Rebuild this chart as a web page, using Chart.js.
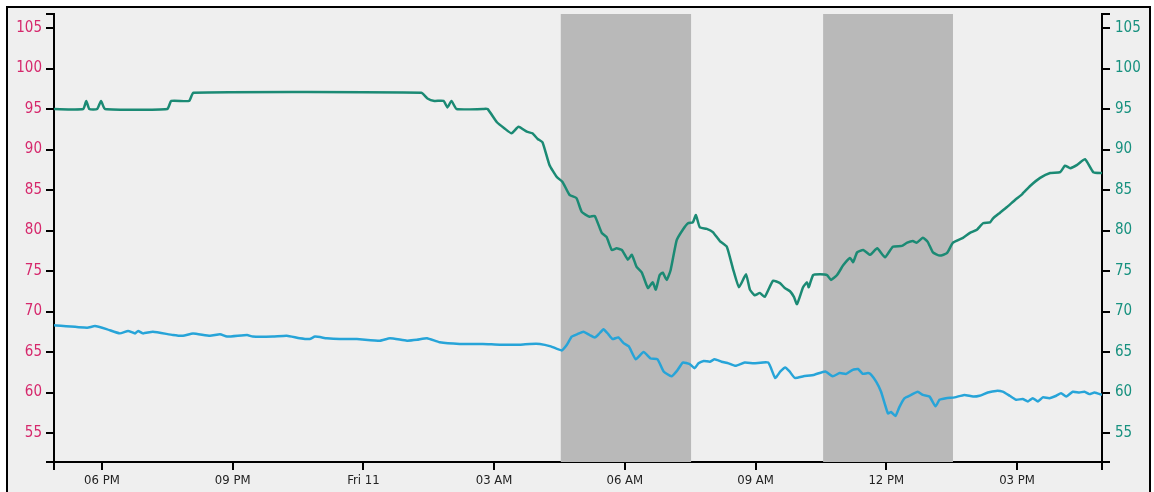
<!DOCTYPE html>
<html>
<head>
<meta charset="utf-8">
<script src="https://cdn.jsdelivr.net/npm/chart.js@4.4.1/dist/chart.umd.min.js"></script>
<style>
  html, body { margin:0; padding:0; background:#ffffff; overflow:hidden; width:1154px; height:492px; }
  #frame { position:absolute; left:6px; top:6px; width:1141px; height:520px; border:2px solid #000; background:#efefef; }
  #c { position:absolute; left:0; top:0; }
</style>
</head>
<body>
<div id="frame"></div>
<canvas id="c" width="1154" height="492"></canvas>
<script>
// time in hours since Thu 00:00 (24 = Fri 11 midnight)
const xMin = 16.9, xMax = 40.95;
const yMin = 51.42, yMax = 106.73;
const xTickValues = [18, 21, 24, 27, 30, 33, 36, 39];
const xTickLabels = ['06 PM', '09 PM', 'Fri 11', '03 AM', '06 AM', '09 AM', '12 PM', '03 PM'];
const yTickValues = [55, 60, 65, 70, 75, 80, 85, 90, 95, 100, 105];
const bandStarts = [28.53, 34.55];
const bandEnds = [31.52, 37.53];

const greenTimes = [16.90,17.57,17.64,17.71,17.89,17.98,18.07,19.50,19.59,20.00,20.10,25.33,25.47,25.63,25.84,25.93,26.02,26.14,26.74,26.85,
  27.06,27.24,27.40,27.56,27.75,27.88,28.00,28.11,28.27,28.44,28.57,28.73,28.89,29.01,29.19,29.31,29.47,29.58,29.70,29.81,
  29.93,30.07,30.16,30.27,30.39,30.53,30.64,30.71,30.80,30.87,30.96,31.05,31.19,31.33,31.45,31.56,31.63,31.72,31.88,32.02,
  32.18,32.34,32.48,32.62,32.78,32.87,32.98,33.10,33.21,33.40,33.56,33.67,33.79,33.88,33.95,34.09,34.18,34.22,34.32,34.48,
  34.64,34.73,34.87,35.01,35.17,35.24,35.33,35.47,35.63,35.79,35.97,36.15,36.36,36.48,36.61,36.70,36.84,36.95,37.07,37.23,
  37.39,37.53,37.76,37.92,38.08,38.22,38.38,38.45,38.61,38.77,38.96,39.12,39.30,39.53,39.76,39.99,40.10,40.22,40.38,40.56,
  40.75,40.95];
const greenValues = [95,95,96,95,95,96,95,95,96,96,97,97,96.3,96,96,95.2,96,95,95,95,
  93.4,92.6,92.0,92.8,92.2,92.0,91.3,90.9,88.1,86.6,86.0,84.4,84.0,82.3,81.7,81.8,79.7,79.2,77.6,77.8,
  77.6,76.4,77.0,75.5,74.8,72.9,73.6,72.7,74.5,74.8,73.9,75.1,78.8,80.1,80.9,81.0,81.9,80.4,80.2,79.8,
  78.7,78.0,75.3,73.0,74.6,72.7,72.0,72.3,71.8,73.8,73.5,72.9,72.5,71.8,70.9,73.0,73.6,73.0,74.5,74.6,
  74.5,73.9,74.5,75.7,76.6,76.1,77.3,77.6,77.0,77.8,76.7,78.0,78.1,78.5,78.7,78.5,79.1,78.6,77.3,76.9,
  77.2,78.5,79.1,79.7,80.1,80.9,81.0,81.5,82.2,82.9,83.8,84.5,85.5,86.5,87.1,87.2,88.0,87.7,88.1,88.8,
  87.2,87.1];

const blueTimes = [16.90,17.66,17.84,18.12,18.41,18.60,18.76,18.83,18.94,19.17,19.63,19.86,20.09,20.48,20.71,20.87,21.33,21.46,21.92,22.24,
  22.54,22.77,22.89,23.16,23.46,23.85,24.38,24.61,25.00,25.23,25.46,25.75,26.21,26.74,27.13,27.59,27.82,28.05,28.30,28.55,
  28.67,28.78,28.91,29.05,29.19,29.31,29.40,29.51,29.62,29.72,29.85,29.97,30.09,30.25,30.43,30.59,30.75,30.89,31.07,31.20,
  31.33,31.49,31.60,31.69,31.81,31.95,32.06,32.22,32.38,32.54,32.75,32.96,33.29,33.45,33.57,33.68,33.78,33.90,34.10,34.35,
  34.60,34.77,34.93,35.08,35.23,35.35,35.46,35.58,35.65,35.77,35.88,35.96,36.04,36.11,36.21,36.30,36.42,36.57,36.72,36.84,
  36.99,37.13,37.22,37.37,37.57,37.79,37.99,38.14,38.33,38.52,38.67,38.83,38.98,39.13,39.25,39.36,39.48,39.59,39.74,39.90,
  40.01,40.13,40.28,40.43,40.55,40.66,40.78,40.95];
const blueValues = [68.3,68.0,68.2,67.8,67.3,67.6,67.3,67.6,67.3,67.5,67.1,67.0,67.3,67.0,67.2,66.9,67.1,66.9,66.9,67.0,
  66.7,66.6,66.9,66.7,66.6,66.6,66.4,66.7,66.4,66.5,66.7,66.2,66.0,66.0,65.9,65.9,66.0,66.0,65.7,65.2,
  65.9,66.9,67.2,67.5,67.1,66.8,67.2,67.8,67.2,66.6,66.8,66.1,65.7,64.1,65.0,64.2,64.1,62.6,62.0,62.7,
  63.7,63.5,63.0,63.6,63.9,63.8,64.1,63.8,63.6,63.3,63.7,63.6,63.7,61.8,62.6,63.1,62.6,61.8,62.0,62.2,
  62.6,62.0,62.4,62.3,62.8,62.9,62.3,62.4,62.2,61.3,60.1,58.7,57.4,57.6,57.1,58.2,59.3,59.7,60.1,59.7,
  59.5,58.3,59.1,59.3,59.4,59.7,59.5,59.6,60.0,60.2,60.1,59.6,59.1,59.2,58.9,59.3,58.9,59.4,59.3,59.6,
  59.9,59.5,60.1,60.0,60.1,59.8,60.0,59.7];

const FONT = "'DejaVu Sans Condensed', 'Liberation Sans Narrow', Roboto, sans-serif";
const GREEN = '#1b8a74';
const BLUE = '#27a4d8';
const PINK = '#d6286c';
const TEAL = '#17917f';
const BAND = '#b9b9b9';

const bandPlugin = {
  id: 'bands',
  beforeDatasetsDraw(chart) {
    const {ctx, chartArea, scales} = chart;
    ctx.save();
    ctx.fillStyle = BAND;
    for (let i = 0; i < bandStarts.length; i++) {
      const x1 = scales.x.getPixelForValue(bandStarts[i]);
      const x2 = scales.x.getPixelForValue(bandEnds[i]);
      ctx.fillRect(x1, chartArea.top, x2 - x1, chartArea.bottom - chartArea.top);
    }
    ctx.restore();
  }
};

function yAxis(position, color, pad) {
  return {
    type: 'linear',
    position: position,
    min: yMin, max: yMax,
    afterBuildTicks: (s) => { s.ticks = [yMin].concat(yTickValues, [yMax]).map(v => ({value: v})); },
    afterFit: (s) => { s.width = position === 'left' ? 54 : 52; },
    border: {display: true, color: '#000', width: 2},
    grid: {drawOnChartArea: false, drawTicks: true, tickLength: 8, color: '#000', lineWidth: 2},
    ticks: {
      color: color, padding: pad, autoSkip: false,
      font: {family: FONT, size: 15},
      callback: (v) => yTickValues.includes(v) ? String(v) : ''
    }
  };
}

new Chart(document.getElementById('c'), {
  type: 'line',
  data: {
    datasets: [
      {
        label: 'green',
        data: greenTimes.map((t, i) => ({x: t, y: greenValues[i]})),
        borderColor: GREEN, borderWidth: 2.5, pointRadius: 0, tension: 0.15,
        yAxisID: 'yR', fill: false
      },
      {
        label: 'blue',
        data: blueTimes.map((t, i) => ({x: t, y: blueValues[i]})),
        borderColor: BLUE, borderWidth: 2.5, pointRadius: 0, tension: 0.15,
        yAxisID: 'yL', fill: false
      }
    ]
  },
  options: {
    responsive: false,
    animation: false,
    devicePixelRatio: 1,
    layout: {padding: {top: 14, left: 0, right: 0, bottom: 0}},
    plugins: {legend: {display: false}, tooltip: {enabled: false}},
    scales: {
      x: {
        type: 'linear', position: 'bottom',
        min: xMin, max: xMax,
        afterBuildTicks: (s) => { s.ticks = [xMin].concat(xTickValues, [xMax]).map(v => ({value: v})); },
        afterFit: (s) => { s.height = 30; },
        border: {display: true, color: '#000', width: 2},
        grid: {drawOnChartArea: false, drawTicks: true, tickLength: 8, color: '#000', lineWidth: 2},
        ticks: {
          color: '#222222', padding: 3, autoSkip: false, maxRotation: 0,
          font: {family: FONT, size: 13},
          callback: (v) => { const i = xTickValues.indexOf(v); return i >= 0 ? xTickLabels[i] : ''; }
        }
      },
      yL: yAxis('left', PINK, 4),
      yR: yAxis('right', TEAL, 5)
    }
  },
  plugins: [bandPlugin]
});
</script>
</body>
</html>
